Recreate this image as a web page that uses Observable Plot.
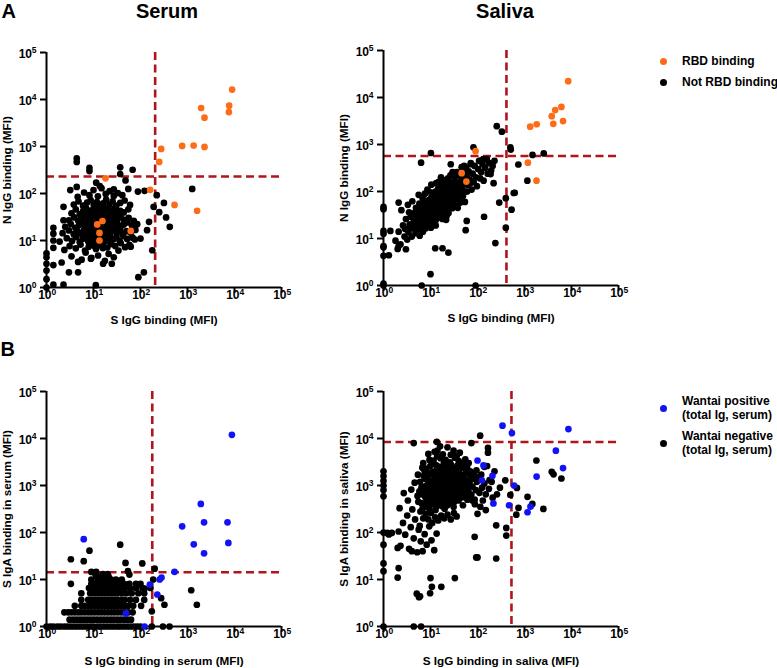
<!DOCTYPE html>
<html><head><meta charset="utf-8">
<script src="https://cdn.jsdelivr.net/npm/d3@7"></script>
<script src="https://cdn.jsdelivr.net/npm/@observablehq/plot@0.6"></script>
<style>
body{margin:0;background:#fff;font-family:"Liberation Sans",Arial,sans-serif;}
#fig{position:relative;width:777px;height:668px;overflow:hidden;background:#fff;}
.abs{position:absolute;font-weight:bold;color:#000;white-space:nowrap;}
.dot{position:absolute;width:7px;height:7px;border-radius:50%;}
</style></head><body><div id="fig"></div>
<script>
// ---------- data ----------
const TICK_VALUES = [1, 10, 100, 1000, 10000, 100000];
const TICK_EXP = ["0", "1", "2", "3", "4", "5"];

const panelTitles = ["Serum", "Saliva"];
const panelLetters = ["A", "B"];
const xLabels = ["S IgG binding (MFI)", "S IgG binding (MFI)", "S IgG binding in serum (MFI)", "S IgG binding in saliva (MFI)"];
const yLabels = ["N IgG binding (MFI)", "N IgG binding (MFI)", "S IgA binding in serum (MFI)", "S IgA binding in saliva (MFI)"];
const legendA = ["RBD binding", "Not RBD binding"];
const legendB = [["Wantai positive", "(total Ig, serum)"], ["Wantai negative", "(total Ig, serum)"]];

// thresholds [x, y]
const cutSerumN = [205, 230];
const cutSalivaN = [413, 570];
const cutSerumA = [178, 14.3];
const cutSalivaA = [528, 8400];

// Panel A serum: [S IgG, N IgG]
const serumN_rbd = [[8900,16300],[7700,7400],[7600,5400],[1950,6600],[2300,4100],[770,1030],[1350,1050],[2300,980],[275,890],[250,470],[160,120],[530,57],[1600,43],[18,210],[15.5,26],[12,22],[13.4,14.5],[13.4,10],[62,16]];
const serumN_not = [
[4.4,560],[4.4,470],[8.2,350],[8.2,300],[37,360],[68,320],[37,260],[1260,125],[315,63],[420,19.5],[350,31],[250,40],[122,114],[178,6.2],[118,2.1],[90,1.66],[11.2,1.12],[2.3,1.15],[1.4,1.15],
[1,1],[1,1.5],[1,2.3],[1,3.2],[1,4.4],[1,5.3],[1.4,18.6],[1.4,14],[1.4,10],[1.4,7],[1.4,3],[2.3,52],[2.3,27],[3.2,118],[4.4,138],[4.7,3.5],[4.7,2.1],[3,2.1],[24.5,3.2],[16,3.2],[9,4.3],
[100,11],[76,10.5],[62,7.4],[138,16.6],[152,25],[190,52],[222,92],[88,110],[48,190],[27,122],[13.6,144],[11.4,170],
[2.1,3.4],[3.4,4.6],[5.6,3.9],[8.8,4.1],[12.5,4.8],[17.5,3.7],[21,5.2],[27,4.4],[34,6.1],[6.8,5.5],
[2.4,6.3],[3.1,7.6],[4.2,6.8],[5.3,8.2],[6.6,6.1],[7.9,7.4],[9.4,8.6],[11.3,6.6],[13.8,7.9],[16.2,8.8],[19.7,7.1],[23.5,8.4],[29,7.6],[38,8.8],[47,7.2],[58,8.1],
[1.9,9.5],[2.7,11.2],[3.5,9.8],[4.3,11.8],[5.1,9.2],[5.9,10.9],[6.9,12.3],[7.7,9.6],[8.6,11.4],[9.7,10.1],[10.8,12.6],[11.9,9.4],[13.1,11.2],[14.6,12.8],[16.1,10.3],[17.9,11.9],[20.5,9.9],[23,12.1],[26.5,10.6],[31,11.8],[36,9.7],[43,12.4],[52,10.8],[68,11.5],
[2.2,14.3],[3,16.4],[3.8,13.6],[4.6,15.8],[5.4,14.1],[6.3,16.9],[7.1,13.9],[8.1,15.4],[9.1,17.2],[10.2,14.6],[11.4,16.3],[12.7,13.8],[14,15.9],[15.5,17.5],[17.2,14.2],[19,16.6],[21.4,13.7],[24.2,15.6],[27.5,17.1],[31.5,14.4],[36.5,16.2],[42,13.9],[50,15.8],[62,14.6],[78,16.8],
[2.5,19.5],[3.3,22.4],[4.1,18.6],[4.9,21.3],[5.7,23.8],[6.6,19.2],[7.4,22.1],[8.4,24.5],[9.4,19.9],[10.5,22.8],[11.7,18.8],[13,21.6],[14.5,24.1],[16,19.6],[17.8,22.5],[19.9,18.9],[22.3,21.4],[25,23.6],[28.5,20.1],[32.5,22.9],[37.5,19.4],[44,21.8],[53,24.2],[66,20.6],[85,22.3],
[3,27],[3.9,31],[4.7,26.5],[5.5,29.5],[6.4,33.5],[7.3,27.8],[8.3,31.8],[9.3,25.9],[10.4,29.4],[11.6,33],[13,27.2],[14.4,30.6],[16,25.6],[17.8,32.4],[20,28.3],[22.5,31.1],[25.5,26.7],[29,33.2],[33,28.9],[38,31.6],[45,27.4],[56,30.3],[72,26.2],
[3.4,38],[4.2,46],[5.1,36.5],[6,42],[7,48.5],[8,37.5],[9.1,44],[10.3,39],[11.7,47],[13.2,36],[14.9,42.5],[16.8,49],[19,38.5],[21.5,45],[24.5,40],[28,47.5],[32,37],[37,43],[44,39.5],[55,46],
[3.8,58],[4.8,68],[6,55],[7.3,64],[8.7,72],[10.1,57],[11.8,66],[13.8,53],[16,62],[18.6,74],[21.8,58],[25.5,68],[30.5,55],[37,63],[46,71],[60,57],
[4.6,85],[6.3,105],[8.2,92],[10,118],[12.4,87],[14.8,130],[18.2,98],[22,112],[27,89],[33,102],[41,92],[55,125],
[6.2,12],[7.6,18],[9.9,16],[12.1,20],[15.2,15],[18.8,13],[8.9,28],[11,25],[14,35],[17,27],[20.8,24],[24.8,18],[30,16],[12.9,9],[10.6,7.5],[15.8,6.9]
];

// Panel A saliva: [S IgG, N IgG]
const salivaN_rbd = [[8500,22300],[6100,6300],[4500,5400],[3800,4000],[4100,2750],[6600,3150],[1320,2400],[1820,2700],[1180,410],[1800,170],[91,720],[46,245],[58,163]];
const salivaN_not = [
[257,2450],[330,1870],[500,870],[510,780],[1480,600],[2570,645],[740,375],[1150,170],[590,93],[620,94],[530,41],[400,72],[400,17],[240,8],[290,58],[10.2,660],[82,870],[133,490],[158,490],[72,380],[27,380],[6.3,410],
[10,1.74],[6.5,1],[91,1],[1,1],[1,1.1],[1,47],[1,42],[1,14.5],[1,12.6],[1,6.9],[1,6.5],[1,4.3],[1.3,4.4],[2,6],[2.1,6.9],[1.4,14.5],[3,5.9],[2.1,58],[24,5],[18,6.2],[12.6,6.2],[21.5,25],
[220,150],[190,235],[230,450],[118,455],[138,29],[56,15],[59,23.7],
[1.8,9],[2.1,14],[2.3,7.5],[2.6,19],[2.8,11],[3.0,26],[2.4,40],[2.9,16],
[3.2,9.5],[3.4,13.5],[3.6,20],[3.8,29],[4.0,11],[4.2,16.5],[4.4,24],[4.6,35],[4.8,13],[3.3,52],[4.1,62],[4.9,19],
[5.1,28],[5.3,15.5],[5.5,41],[5.7,22],[5.9,11.5],[6.1,32],[6.3,18],[6.5,48],[6.7,25],[6.9,14],[7.1,37],[7.3,21],[7.5,58],[7.7,29],[7.9,16.5],[5.6,85],[6.8,72],
[8.1,43],[8.3,24],[8.5,33],[8.7,19],[8.9,62],[9.1,28],[9.3,40],[9.5,22],[9.7,52],[9.9,31],[10.2,17],[10.5,45],[10.8,26],[11.1,70],[11.4,36],[11.7,21],[12,55],[8.6,110],[10.4,140],[11.8,95],
[12.3,30],[12.7,42],[13.1,25],[13.5,62],[13.9,35],[14.3,50],[14.7,28],[15.2,80],[15.7,40],[16.2,58],[16.7,33],[17.2,95],[17.8,46],[18.4,68],[19,38],[19.6,120],[12.9,19],[15,160],[18,26],[19.3,55],
[20.3,50],[21,78],[21.8,42],[22.6,105],[23.4,60],[24.2,35],[25,88],[26,52],[27,140],[28,70],[29,44],[30,110],[31,62],[32.5,180],[34,85],[22,30],[26.5,220],[33,50],[24,160],[29.5,260],
[36,115],[37.5,70],[39,150],[41,95],[43,58],[45,200],[47,125],[49,80],[51,260],[53,160],[55,100],[57,320],[59,210],[38,45],[46,330],[54,60],
[62,140],[65,270],[68,180],[72,400],[75,110],[79,240],[83,160],[87,350],[92,200],[97,130],[103,300],[108,450],[114,190],[120,260],
[128,380],[135,170],[145,320],[155,480],[165,240],[178,400],[195,280],[210,350],
[3.7,17],[4.5,21],[5.2,19],[6,26],[6.6,34],[7.2,27],[7.8,38],[8.4,30],[9,35],[9.6,44],[10.1,38],[10.7,33],[11.3,48],[11.9,42],[12.5,36],[13.3,55],[14.1,46],[15,64],[16,52],[17,72],[18.1,60],[19.5,85],[21.5,66],[23,50],[25.5,75],[28,95],
[13.7,29],[7,44],[5,24],[9.4,25],[11,58],[16.4,45],[20.5,36],[31,90],[37,130],[42,75],[50,140],[60,100],[70,150],
[4.3,28],[5.4,33],[6.2,40],[7.4,50],[8.2,56],[9.2,66],[10.4,75],[11.6,85],[12.8,100],[14.5,115],[16.5,130],[18.5,150],[20.8,175],[23.5,190],[26,120],[29,150],[32,230],[36,260],[41,220],[46,180],[52,350],
[6.4,22],[7.6,33],[8.8,46],[10,52],[11.2,63],[12.6,72],[14.2,80],[16,95],[18,110],[20,130],[22.5,145],[25,110],[3.5,36],[4.9,45],[5.8,55],[7.6,90],[9.3,100],[16.7,200],[13.2,150]
];

// Panel B serum: [S IgG serum, S IgA serum]
const serumA_pos = [[8800,12000],[1920,405],[2250,165],[770,135],[1360,56],[2250,36],[7100,165],[7400,60],[530,14.6],[280,11],[255,10],[228,4.8],[158,7.8],[49,1.9],[122,1],[6.2,72]];
const serumA_neg = [
[37,55],[8.2,41],[3.3,27],[6.2,24.5],[48,22.5],[109,22],[200,17],[54,15],[58,12.7],[20,13],[1200,5.9],[1580,2.9],[186,10],[3.3,8.1],
[1,1],[1.2,1],[1.4,1],[1.7,1],[2,1],[2.4,1],[2.8,1],[3.3,1],[3.9,1],[4.6,1],[5.4,1],[6.3,1],[7.4,1],[8.7,1],[10,1],[12,1],[14,1],[16.5,1],[19.5,1],[23,1],[27,1],[32,1],[37,1],[44,1],[52,1],[61,1],[72,1],[85,1],[100,1],[174,1],[300,1],[415,1],
[3.1,1.4],[3.7,1.4],[4.4,1.4],[5.2,1.4],[6.1,1.4],[7.2,1.4],[8.5,1.4],[10,1.4],[11.8,1.4],[14,1.4],[16.5,1.4],[19.5,1.4],[23,1.4],[27,1.4],[32,1.4],[38,1.4],[45,1.4],[53,1.4],[63,1.4],
[2.4,2],[2.9,2],[3.4,2],[4,2],[4.7,2],[5.5,2],[6.5,2],[7.7,2],[9,2],[10.6,2],[12.5,2],[14.7,2],[17.3,2],[20.4,2],[24,2],[28,2],[33,2],[39,2],[46,2],[55,2],[68,2],[174,2.1],
[4,2.75],[5.5,2.75],[6.5,2.75],[7.7,2.75],[9,2.75],[10.6,2.75],[12.5,2.75],[14.7,2.75],[17.3,2.75],[20.4,2.75],[24,2.75],[28,2.75],[33,2.75],[39,2.75],[46,2.75],[55,2.75],[70,2.75],[103,2.75],[323,2.9],
[5.5,3.7],[7.7,3.7],[9,3.7],[10.6,3.7],[12.5,3.7],[14.7,3.7],[17.3,3.7],[20.4,3.7],[24,3.7],[28,3.7],[33,3.7],[39,3.7],[46,3.7],[60,3.7],[80,3.7],[120,3.7],[275,4],
[5.5,5.1],[8.5,5.1],[10,5.1],[11.8,5.1],[14,5.1],[16.5,5.1],[19.5,5.1],[23,5.1],[27,5.1],[32,5.1],[40,5.1],[50,5.1],[65,5.1],[90,5.1],[120,5.1],
[8,6.6],[9.5,6.6],[11,6.6],[13,6.6],[15,6.6],[18,6.6],[21,6.6],[25,6.6],[30,6.6],[36,6.6],[45,6.6],[60,6.6],[80,6.6],[110,6.6],[122,6.4],[163,6.6],
[9,8.1],[10.5,8.1],[12.3,8.1],[14.5,8.1],[17,8.1],[20,8.1],[24,8.1],[28,8.1],[35,8.1],[45,8.1],[58,8.1],[80,8.1],[100,8.1],
[9,10],[12.3,10],[14.5,10],[17,10],[20,10],[24,10],[30,10],[40,10],
[12,11.5],[14,11.5],[17,11.5],[21,11.5],[11,13],[16,13],[9,14.5],[11.4,14.5]
];

// Panel B saliva: [S IgG saliva, S IgA saliva]
const salivaA_pos = [[340,18700],[540,13100],[8600,15900],[4650,5500],[6600,2350],[1810,1550],[600,1000],[1160,270],[1340,355],[470,380],[218,415],[208,1610],[124,1290],[100,3400],[134,2680]];
const salivaA_neg = [
[114,11500],[13.6,8500],[4.4,8000],[74,8000],[167,6300],[167,5000],[1790,3400],[3800,1950],[4150,1730],[6100,1410],[2520,317],[1160,575],[1470,405],[670,240],[745,335],[690,890],[500,630],[390,1290],[410,125],[410,86],[250,28],[250,142],
[1,2000],[1,1590],[1,1260],[1,1000],[1,800],[1,590],[1,100],[1,55],[1,22],[1,15],[1,1],[1.2,98],[1.5,98],[4.4,1],[6.3,1],
[5.1,5],[5.7,4.2],[6,4.4],[9.8,5.1],[10.7,7],[17,7],[10,10.7],[2,11],[2.1,17.5],[1.3,91],[2,47],[5.9,138],[4,40],[33,10.7],[61,550],[67,550],[87,81],[94,29.5],[100,29.5],
[2.1,105],[2.3,52],[2.6,160],[2.9,90],[3.2,230],[3.5,45],[3.8,130],[4.1,310],[4.4,75],[4.7,190],[5.2,38],[5.6,115],[6.2,65],[2.2,330],[3.3,480],[2.7,690],[4.6,1150],[3.9,820],[5.3,600],[6.8,40],[7.5,92],[8.3,55],[9.4,135],[10.5,68],[12,42],[13.5,95],
[6.1,280],[6.5,420],[6.9,640],[7.3,950],[7.7,1400],[8.1,350],[8.5,520],[8.9,780],[9.3,1150],[9.7,1750],[10.2,260],[10.6,410],[11,620],[11.4,900],[11.8,1350],[12.3,2000],[12.8,300],[13.3,470],[13.8,700],[14.3,1050],[14.8,1600],[15.4,2500],
[16,380],[16.6,560],[17.2,830],[17.8,1250],[18.5,1900],[19.2,3000],[20,320],[20.8,480],[21.6,720],[22.5,1080],[23.4,1650],[24.3,2400],[25.3,420],[26.3,620],[27.4,930],[28.5,1400],[29.7,2100],
[31,350],[32.3,540],[33.6,800],[35,1200],[36.5,1800],[38,2700],[39.6,480],[41.3,720],[43,1100],[45,1600],[47,2400],[49,380],[51,600],[53,900],[55.5,1350],[58,2000],[61,500],[64,780],[67,1150],[70,1700],[74,640],[78,950],[82,1400],[87,500],[92,800],[97,1200],
[7,200],[7.9,250],[9,190],[10.9,160],[12.6,210],[14.6,180],[16.9,230],[19.6,200],[23,240],[27,190],[31.5,260],[36,220],[7.5,2000],[9.9,2600],[11.6,3400],[13.9,4200],[16.3,3800],[21,3500],[26,3100],[33,3900],[40,3300],[50,2900],
[9.2,600],[10.8,850],[12.4,1200],[14.1,600],[15.9,900],[17.6,1500],[19.6,650],[21.8,1000],[24.5,1300],[27.6,820],[30.8,1150],[34.4,650],[38.6,950],[44,1350],[11.2,480],[13,350],[15.2,440],[17.9,360],[20.9,560],[24,700],[28,550],[32,450],
[6.4,900],[8.6,1050],[7.8,560],[5.8,750],[5.4,1700],[6.7,2400],[9,4700],[14,5500],[27,4500],[42,5000],
[100,250],[115,350],[130,480],[150,300],[150,650],[88,400],[110,700],[125,900],[105,1500],[95,2100],[120,1700],[140,1100],[175,850],[200,1200],[230,2000],[260,650],[300,900],[180,1300],[210,550],[140,2500],[160,2600],
[5.5,450],[6,1200],[6.8,330],[7.2,1600],[7.6,760],[8,2300],[8.4,420],[8.8,1350],[9.5,320],[9.8,950],[10.3,1900],[10.7,560],[11.1,1150],[11.5,2900],[12,760],[12.5,1650],[12.9,420],[13.4,2700],[13.9,880],[14.4,1350],
[15,520],[15.6,1900],[16.2,1150],[16.8,650],[17.4,2200],[18,950],[18.7,450],[19.4,1350],[20.2,2600],[21,860],[21.9,1500],[22.8,380],[23.7,2000],[24.7,1000],[25.8,560],[26.9,1700],[28,2700],[29.2,700],[30.5,1300],[31.8,2000],
[33.2,950],[34.7,1500],[36.2,2300],[37.8,600],[39.5,1200],[41.2,1800],[43,850],[45,2700],[47,560],[49,1100],[51,1700],[54,700],[57,1250],[60,2400],[63,1000],[66,600],[70,2000],[74,1350],[78,480],[83,1800],
[12.2,5200],[18.3,4600],[23,6500],[31,5500],[9.5,3500],[7,3000],[16,6800],[36,4200],[55,3600],[65,3000]
];

// ---------- drawing ----------
const FONT = '"Liberation Sans", Arial, Helvetica, sans-serif';
const RED = "#b0141c";
const ORANGE = "#ff6c17";
const BLUE = "#1212f6";
const fig = document.getElementById("fig");

function panel(cfg) {
  const ML = 46, MT = 30, MR = 15, MB = 42, W = 235, H = 235;
  const chart = Plot.plot({
    width: ML + W + MR, height: MT + H + MB,
    marginLeft: ML, marginTop: MT, marginRight: MR, marginBottom: MB,
    style: {fontFamily: FONT, fontWeight: "bold", background: "transparent", color: "#000", overflow: "visible"},
    x: {type: "log", domain: [1, 1e5]},
    y: {type: "log", domain: [1, 1e5]},
    marks: [
      Plot.ruleX([cfg.cut[0]], {stroke: RED, strokeWidth: 2.6, strokeDasharray: "8,4.5"}),
      Plot.ruleY([cfg.cut[1]], {stroke: RED, strokeWidth: 2.6, strokeDasharray: "8,4.5"}),
      Plot.ruleX([1], {stroke: "#000", strokeWidth: 2}),
      Plot.ruleY([1], {stroke: "#000", strokeWidth: 2}),
      Plot.axisX({ticks: TICK_VALUES, tickSize: 6, tickFormat: () => "", strokeWidth: 2, label: null}),
      Plot.axisY({ticks: TICK_VALUES, tickSize: 6, tickFormat: () => "", strokeWidth: 2, label: null}),
      Plot.dot(cfg.black, {x: d => d[0], y: d => d[1], r: 3.35, fill: "#000"}),
      Plot.dot(cfg.colored, {x: d => d[0], y: d => d[1], r: 3.35, fill: cfg.color}),
      Plot.text(TICK_VALUES, {x: d => d, frameAnchor: "bottom", text: () => "10", textAnchor: "end", dx: 5, dy: 8, lineAnchor: "middle", fontSize: 12, fontWeight: "bold"}),
      Plot.text(TICK_VALUES, {x: d => d, frameAnchor: "bottom", text: (d, i) => TICK_EXP[i], textAnchor: "start", dx: 5, dy: 4.6, lineAnchor: "middle", fontSize: 8.5, fontWeight: "bold"}),
      Plot.text(TICK_VALUES, {y: d => d, frameAnchor: "left", text: () => "10", textAnchor: "end", dx: -14.5, dy: 1.5, lineAnchor: "middle", fontSize: 12, fontWeight: "bold"}),
      Plot.text(TICK_VALUES, {y: d => d, frameAnchor: "left", text: (d, i) => TICK_EXP[i], textAnchor: "end", dx: -10, dy: -1.8, lineAnchor: "middle", fontSize: 8.5, fontWeight: "bold"}),
      Plot.text([cfg.xLabel], {frameAnchor: "bottom", dy: cfg.xLabelDy, textAnchor: "middle", lineAnchor: "middle", fontSize: 11.7, fontWeight: "bold"}),
      Plot.text([cfg.yLabel], {frameAnchor: "left", dx: -39, rotate: -90, textAnchor: "middle", lineAnchor: "middle", fontSize: 11.7, fontWeight: "bold"})
    ]
  });
  chart.style.position = "absolute";
  chart.style.left = (cfg.left - ML) + "px";
  chart.style.top = (cfg.top - MT) + "px";
  fig.appendChild(chart);
}

panel({left: 46, top: 52.3, cut: cutSerumN, black: serumN_not, colored: serumN_rbd, color: ORANGE, xLabel: xLabels[0], yLabel: yLabels[0], xLabelDy: 32.5});
panel({left: 383.3, top: 50, cut: cutSalivaN, black: salivaN_not, colored: salivaN_rbd, color: ORANGE, xLabel: xLabels[1], yLabel: yLabels[1], xLabelDy: 32.5});
panel({left: 46, top: 390.7, cut: cutSerumA, black: serumA_neg, colored: serumA_pos, color: BLUE, xLabel: xLabels[2], yLabel: yLabels[2], xLabelDy: 35});
panel({left: 383.3, top: 390.7, cut: cutSalivaA, black: salivaA_neg, colored: salivaA_pos, color: BLUE, xLabel: xLabels[3], yLabel: yLabels[3], xLabelDy: 35});

function addText(txt, left, top, size, opts = {}) {
  const d = document.createElement("div");
  d.className = "abs";
  d.style.left = left + "px";
  d.style.top = top + "px";
  d.style.fontSize = size + "px";
  d.style.lineHeight = (opts.lh || size) + "px";
  if (opts.center) d.style.transform = "translateX(-50%)";
  d.innerHTML = txt;
  fig.appendChild(d);
}
function addDot(cx, cy, color) {
  const d = document.createElement("div");
  d.className = "dot";
  d.style.left = (cx - 3.5) + "px";
  d.style.top = (cy - 3.5) + "px";
  d.style.background = color;
  fig.appendChild(d);
}

addText(panelLetters[0], 1.5, 0.7, 20);
addText(panelLetters[1], 0.5, 338.5, 20);
addText(panelTitles[0], 167, 0.7, 20, {center: true});
addText(panelTitles[1], 505, 0.7, 20, {center: true});

addDot(663, 61, ORANGE);
addText(legendA[0], 682, 53.9, 12, {lh: 14.5});
addDot(663, 82, "#000");
addText(legendA[1], 682, 74.9, 12, {lh: 14.5});

addDot(663, 408, BLUE);
addText(legendB[0].join("<br>"), 682, 393.9, 12, {lh: 14.5});
addDot(663, 443.7, "#000");
addText(legendB[1].join("<br>"), 682, 428.9, 12, {lh: 14.5});
</script></body></html>
